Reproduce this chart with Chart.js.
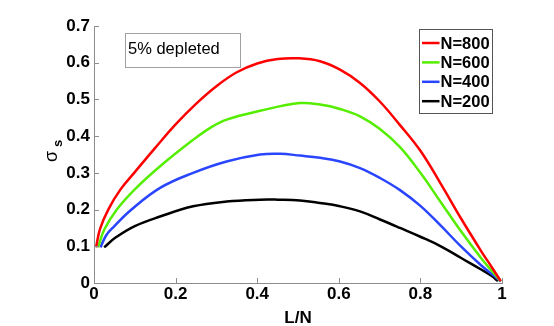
<!DOCTYPE html>
<html>
<head>
<meta charset="utf-8">
<script src="https://cdn.jsdelivr.net/npm/chart.js@4"></script>
<style>
  html, body { margin: 0; padding: 0; background: #fff; }
  #wrap { width: 554px; height: 326px; }
</style>
</head>
<body>
<div id="wrap"><canvas id="sigmaChart" width="554" height="326"></canvas></div>
<script>
// values (sigma_s vs L/N, 5% depleted)
const seriesNames = ['N=800', 'N=600', 'N=400', 'N=200'];
const seriesColors = ['#ff0000', '#55ee00', '#2a45ff', '#000000'];

const ln800 = [0.005, 0.015, 0.035, 0.065, 0.1, 0.15, 0.2, 0.25, 0.3, 0.35, 0.4, 0.45, 0.5, 0.554, 0.603, 0.652, 0.7, 0.75, 0.8, 0.85, 0.9, 0.95, 0.975, 0.997];
const sig800 = [0.097, 0.148, 0.2, 0.255, 0.302, 0.368, 0.432, 0.488, 0.536, 0.574, 0.598, 0.61, 0.612, 0.604, 0.581, 0.545, 0.495, 0.43, 0.36, 0.27, 0.175, 0.085, 0.043, 0.005];

const ln600 = [0.01, 0.025, 0.056, 0.1, 0.162, 0.243, 0.284, 0.325, 0.407, 0.505, 0.554, 0.603, 0.652, 0.7, 0.75, 0.8, 0.85, 0.9, 0.95, 0.975, 0.997];
const sig600 = [0.097, 0.145, 0.2, 0.255, 0.318, 0.39, 0.422, 0.445, 0.469, 0.49, 0.486, 0.474, 0.454, 0.42, 0.37, 0.3, 0.22, 0.14, 0.066, 0.033, 0.005];

const ln400 = [0.016, 0.03, 0.05, 0.092, 0.162, 0.243, 0.325, 0.407, 0.456, 0.505, 0.554, 0.603, 0.652, 0.701, 0.75, 0.8, 0.85, 0.9, 0.95, 0.98, 0.997];
const sig400 = [0.097, 0.13, 0.155, 0.2, 0.259, 0.3, 0.331, 0.35, 0.352, 0.347, 0.341, 0.331, 0.313, 0.286, 0.253, 0.21, 0.156, 0.099, 0.047, 0.02, 0.004];

const ln200 = [0.025, 0.052, 0.1, 0.162, 0.243, 0.325, 0.407, 0.45, 0.505, 0.554, 0.603, 0.652, 0.701, 0.75, 0.8, 0.85, 0.9, 0.95, 0.975, 0.99];
const sig200 = [0.097, 0.123, 0.155, 0.181, 0.209, 0.222, 0.227, 0.227, 0.225, 0.218, 0.209, 0.195, 0.173, 0.15, 0.126, 0.1, 0.068, 0.036, 0.019, 0.005];

const xTicks = [0, 0.2, 0.4, 0.6, 0.8, 1];
const yTicks = [0, 0.1, 0.2, 0.3, 0.4, 0.5, 0.6, 0.7];

const seriesX = [ln800, ln600, ln400, ln200];
const seriesY = [sig800, sig600, sig400, sig200];

const FONT = "'Liberation Sans', Arial, Helvetica, sans-serif";

function fmtTick(v) {
  if (Math.abs(v) < 1e-9) return '0';
  if (Math.abs(v - 1) < 1e-9) return '1';
  return v.toFixed(1);
}

// extra drawing: inward ticks, axis titles, text box and legend box
const decorations = {
  id: 'decorations',
  afterDraw(chart) {
    const ctx = chart.ctx;
    const xs = chart.scales.x, ys = chart.scales.y;
    const area = chart.chartArea;
    ctx.save();

    // inward tick marks
    ctx.strokeStyle = '#8c8c8c';
    ctx.lineWidth = 1;
    ctx.beginPath();
    xTicks.forEach(function(t) {
      const px = Math.round(xs.getPixelForValue(t)) + 0.5;
      ctx.moveTo(px, area.bottom);
      ctx.lineTo(px, area.bottom - 5);
    });
    yTicks.forEach(function(t) {
      const py = Math.round(ys.getPixelForValue(t)) + 0.5;
      ctx.moveTo(area.left, py);
      ctx.lineTo(area.left + 5, py);
    });
    ctx.stroke();

    // x title
    ctx.fillStyle = '#000';
    ctx.font = 'bold 17px ' + FONT;
    ctx.textAlign = 'center';
    ctx.textBaseline = 'alphabetic';
    ctx.fillText('L/N', (area.left + area.right) / 2, 323);

    // y title: sigma with subscript s, rotated
    ctx.save();
    ctx.translate(56.5, 162);
    ctx.rotate(-Math.PI / 2);
    ctx.textAlign = 'left';
    ctx.font = '18px ' + FONT;
    ctx.fillText('σ', 0, 0);
    ctx.font = 'bold 13px ' + FONT;
    ctx.fillText('s', 15, 5);
    ctx.restore();

    // annotation box
    ctx.fillStyle = '#fff';
    ctx.fillRect(125.5, 33.5, 115, 34);
    ctx.strokeStyle = '#a0a0a0';
    ctx.strokeRect(125.5, 33.5, 115, 34);
    ctx.fillStyle = '#000';
    ctx.font = '16.5px ' + FONT;
    ctx.textAlign = 'left';
    ctx.fillText('5% depleted', 128, 53.5);

    // legend box
    ctx.fillStyle = '#fff';
    ctx.fillRect(419.5, 29.5, 73, 84);
    ctx.strokeStyle = '#555';
    ctx.strokeRect(419.5, 29.5, 73, 84);
    ctx.font = 'bold 16.5px ' + FONT;
    ctx.textBaseline = 'middle';
    chart.data.datasets.forEach(function(ds, i) {
      const cy = 43 + i * 19.4;
      ctx.strokeStyle = ds.borderColor;
      ctx.lineWidth = 2.5;
      ctx.beginPath();
      ctx.moveTo(422, cy);
      ctx.lineTo(439.5, cy);
      ctx.stroke();
      ctx.fillStyle = '#000';
      ctx.fillText(ds.label, 440.5, cy + 1);
    });

    ctx.restore();
  }
};

const datasets = seriesNames.map(function(name, i) {
  return {
    label: name,
    data: seriesX[i].map(function(x, j) { return { x: x, y: seriesY[i][j] }; }),
    borderColor: seriesColors[i],
    backgroundColor: seriesColors[i],
    borderWidth: 2.5,
    pointRadius: 0,
    fill: false,
    tension: 0.4
  };
});

new Chart(document.getElementById('sigmaChart').getContext('2d'), {
  type: 'line',
  data: { datasets: datasets },
  options: {
    responsive: false,
    animation: false,
    layout: { padding: { top: 26, right: 52, left: 0, bottom: 0 } },
    plugins: {
      legend: { display: false },
      tooltip: { enabled: false }
    },
    scales: {
      x: {
        type: 'linear',
        min: 0,
        max: 1,
        afterFit: function(scale) { scale.height = 43; },
        afterBuildTicks: function(scale) { scale.ticks = xTicks.map(function(v) { return { value: v }; }); },
        ticks: {
          callback: fmtTick,
          color: '#000',
          font: { family: FONT, size: 17, weight: 'bold' },
          padding: 1,
          maxRotation: 0
        },
        grid: { drawOnChartArea: false, drawTicks: false },
        border: { color: '#8c8c8c', width: 1 }
      },
      y: {
        type: 'linear',
        min: 0,
        max: 0.7,
        afterFit: function(scale) { scale.width = 94; },
        afterBuildTicks: function(scale) { scale.ticks = yTicks.map(function(v) { return { value: v }; }); },
        ticks: {
          callback: fmtTick,
          color: '#000',
          font: { family: FONT, size: 17, weight: 'bold' },
          padding: 4
        },
        grid: { drawOnChartArea: false, drawTicks: false },
        border: { color: '#8c8c8c', width: 1 }
      }
    }
  },
  plugins: [decorations]
});
</script>
</body>
</html>
